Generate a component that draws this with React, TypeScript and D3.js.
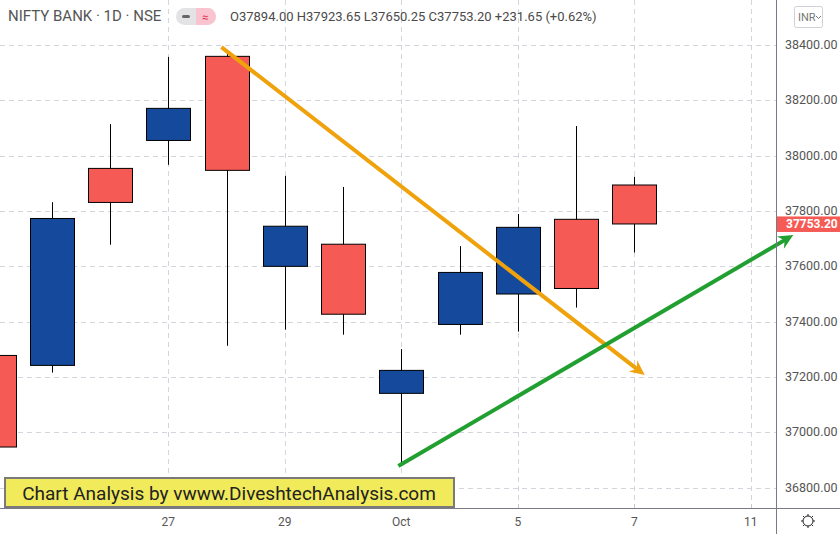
import React from "react";
import * as d3 from "d3";

const W = 840;
const H = 534;

// Trading days (index 0 = Sep 22, 2021)
const dayLabels = ["22", "23", "24", "27", "28", "29", "30", "Oct", "4", "5", "6", "7", "8", "11"];
const opens = [37278, 37242, 37954, 38055, 38359, 37600, 37680, 37141, 37390, 37500, 37770, 37894.0];
const highs = [37300, 37832, 38114, 38357, 38372, 37927, 37887, 37301, 37673, 37789, 38107, 37923.65];
const lows = [36930, 37216, 37678, 37967, 37313, 37371, 37353, 36884, 37353, 37364, 37451, 37650.25];
const closes = [36947, 37773, 37831, 38171, 37947, 37745, 37427, 37224, 37578, 37741, 37520, 37753.2];

const priceTicks = [36800, 37000, 37200, 37400, 37600, 37800, 38000, 38200, 38400];
const dateTickIdx = [3, 5, 7, 9, 11, 13];
const dateTickLabels = ["27", "29", "Oct", "5", "7", "11"];

// Trend arrows: [index, price] start and end
const orangeArrow = [[3.94, 38388], [11.18, 37207]];
const greenArrow = [[6.98, 36882], [13.73, 37713]];

const lastClose = 37753.2;

const UP = "#15499b";
const DOWN = "#f55a54";
const FONT = "Roboto, 'Open Sans', Arial, sans-serif";
const AXIS_X = 776;
const AXIS_Y = 508;

function Arrow({ pts, color, x, y }: any) {
  const x1 = x(pts[0][0]), y1 = y(pts[0][1]);
  const x2 = x(pts[1][0]), y2 = y(pts[1][1]);
  const ang = Math.atan2(y2 - y1, x2 - x1);
  const L = 15, Wd = 7, back = 10;
  const bx = x2 - Math.cos(ang) * back, by = y2 - Math.sin(ang) * back;
  const p = (dx: number, dy: number) => [x2 - Math.cos(ang) * dx - Math.sin(ang) * dy, y2 - Math.sin(ang) * dx + Math.cos(ang) * dy];
  const a = p(L, Wd), b = p(L, -Wd);
  return (
    <g>
      <line x1={x1} y1={y1} x2={bx} y2={by} stroke={color} strokeWidth={4} strokeLinecap="square" />
      <path d={`M${x2},${y2} L${a[0]},${a[1]} L${bx},${by} L${b[0]},${b[1]} Z`} fill={color} />
    </g>
  );
}

export default function App() {
  const x = d3.scaleLinear().domain([0, 13]).range([-6.5, -6.5 + 58.25 * 13]);
  const y = d3.scaleLinear().domain([36800, 38400]).range([487.7, 45]);
  const bw = 44;
  const fmt = d3.format(".2f");

  return (
    <svg width={W} height={H} style={{ position: "absolute", left: 0, top: 0, background: "#fff" }} fontFamily={FONT}>
      <rect width={W} height={H} fill="#fff" />
      <defs>
        <clipPath id="plot">
          <rect x={0} y={0} width={AXIS_X} height={AXIS_Y} />
        </clipPath>
      </defs>
      {/* grid */}
      <g stroke="#d4d5dc" strokeWidth={1} strokeDasharray="5,4">
        {priceTicks.map((p) => (
          <line key={p} x1={0} x2={AXIS_X} y1={Math.round(y(p)) + 0.5} y2={Math.round(y(p)) + 0.5} />
        ))}
        {dateTickIdx.map((i) => (
          <line key={i} x1={Math.round(x(i)) + 0.5} x2={Math.round(x(i)) + 0.5} y1={0} y2={AXIS_Y} />
        ))}
      </g>
      {/* candles */}
      <g clipPath="url(#plot)">
        {opens.map((o, i) => {
          const c = closes[i];
          const up = c >= o;
          const cx = Math.round(x(i)) + 0.5;
          const top = y(Math.max(o, c));
          const bot = y(Math.min(o, c));
          return (
            <g key={i}>
              <line x1={cx} x2={cx} y1={y(highs[i])} y2={y(lows[i])} stroke="#000" strokeWidth={1} />
              <rect x={cx - bw / 2} y={top} width={bw} height={bot - top} fill={up ? UP : DOWN} stroke="#000" strokeWidth={1} />
            </g>
          );
        })}
      </g>
      {/* arrows */}
      <Arrow pts={orangeArrow} color="#efa20c" x={x} y={y} />
      <Arrow pts={greenArrow} color="#21a031" x={x} y={y} />
      {/* axes */}
      <line x1={AXIS_X + 0.5} x2={AXIS_X + 0.5} y1={0} y2={H} stroke="#787b86" strokeWidth={1} />
      <line x1={0} x2={W} y1={AXIS_Y + 0.5} y2={AXIS_Y + 0.5} stroke="#787b86" strokeWidth={1} />
      {dateTickIdx.map((i, k) => (
        <g key={i}>
          <line x1={Math.round(x(i)) + 0.5} x2={Math.round(x(i)) + 0.5} y1={AXIS_Y - 4} y2={AXIS_Y} stroke="#c8c9d0" />
          <text x={x(i)} y={526} textAnchor="middle" fontSize={12} fill="#555">
            {dateTickLabels[k]}
          </text>
        </g>
      ))}
      {priceTicks.map((p) => (
        <text key={p} x={785} y={y(p) + 4} fontSize={12.5} fill="#555">
          {fmt(p)}
        </text>
      ))}
      {/* last price label */}
      <rect x={AXIS_X + 1} y={y(lastClose) - 7.5} width={W - AXIS_X - 1} height={15.5} fill={DOWN} />
      <text x={786} y={y(lastClose) + 4.5} fontSize={12} fontWeight="bold" fill="#fff">
        {fmt(lastClose)}
      </text>
      {/* header */}
      <text x={8} y={21} fontSize={15} fill="#555">NIFTY BANK · 1D · NSE</text>
      <rect x={176} y={8} width={40} height={17} rx={8.5} fill="#e3e3e6" />
      <path d="M196,8 h11.5 a8.5,8.5 0 0 1 0,17 h-11.5 Z" fill="#f9c4cf" />
      <rect x={182} y={15} width={8} height={3} rx={1.5} fill="#666" />
      <text x={205} y={20.5} fontSize={11} fill="#e0304a" textAnchor="middle">≈</text>
      <text x={230} y={21} fontSize={13} fill="#4a4a4a">
        O37894.00 H37923.65 L37650.25 C37753.20 +231.65 (+0.62%)
      </text>
      {/* INR button */}
      <rect x={794.5} y={6.5} width={28} height={21} rx={2} fill="#fff" stroke="#d0d0d6" />
      <text x={798} y={21} fontSize={11} fill="#777">INR</text>
      <path d="M816,16 l2.5,2.5 l2.5,-2.5" fill="none" stroke="#777" strokeWidth={1} />
      {/* settings icon */}
      <g transform="translate(808,521)" stroke="#222" fill="none" strokeWidth={1}>
        <circle r={5} />
        {d3.range(8).map((k) => {
          const a = (k * Math.PI) / 4;
          return <line key={k} x1={Math.cos(a) * 5} y1={Math.sin(a) * 5} x2={Math.cos(a) * 7} y2={Math.sin(a) * 7} />;
        })}
      </g>
      {/* watermark banner */}
      <rect x={5} y={478} width={449} height={29} fill="#f1ea5b" stroke="#7a7a7a" strokeWidth={2} />
      <text x={229} y={499.5} textAnchor="middle" fontSize={19} fill="#222">
        Chart Analysis by vwww.DiveshtechAnalysis.com
      </text>
    </svg>
  );
}
